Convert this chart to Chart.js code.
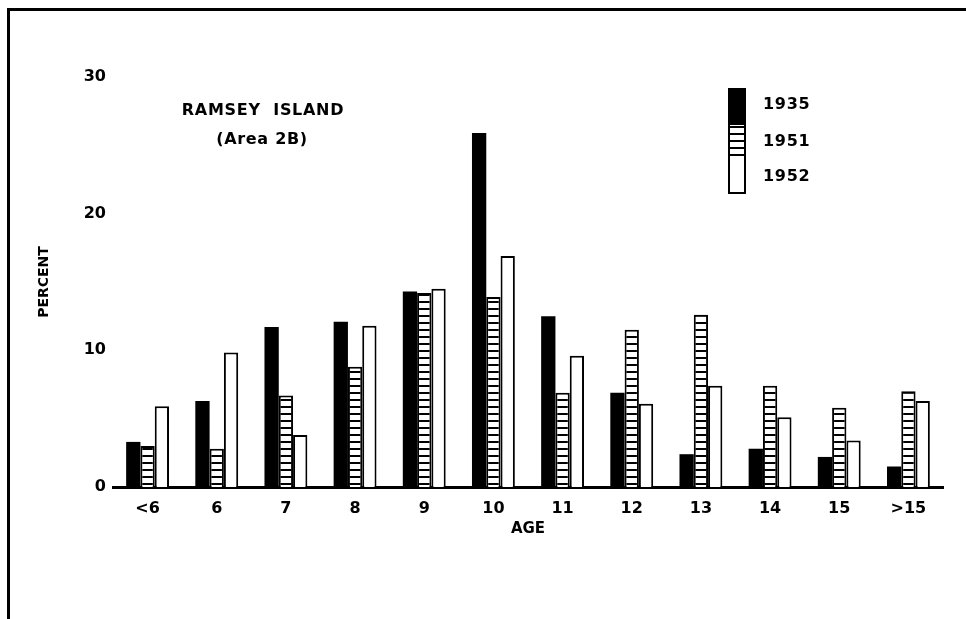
<!DOCTYPE html>
<html>
<head>
<meta charset="utf-8">
<title>Ramsey Island - age composition</title>
<script src="https://cdn.jsdelivr.net/npm/chart.js@4.4.1/dist/chart.umd.min.js"></script>
<style>
    html, body { margin: 0; padding: 0; background: #fff; }
    canvas { display: block; }
</style>
</head>
<body>
<canvas id="ageChart" width="966" height="619"></canvas>
<script>
// age classes on the x axis
const ages = ['<6', '6', '7', '8', '9', '10', '11', '12', '13', '14', '15', '>15'];

// percent of sample in each age class
const pct1935 = [3.3, 6.3, 11.7, 12.1, 14.3, 25.9, 12.5, 6.9, 2.4, 2.8, 2.2, 1.5];
const pct1951 = [3.0, 2.8, 6.7, 8.8, 14.2, 13.9, 6.9, 11.5, 12.6, 7.4, 5.8, 7.0];
const pct1952 = [5.9, 9.85, 3.8, 11.8, 14.5, 16.9, 9.6, 6.1, 7.4, 5.1, 3.4, 6.3];

const yTicks = [0, 10, 20, 30];

const FONT = '"DejaVu Sans", sans-serif';

function makeStripes(ctx) {
    const tile = document.createElement('canvas');
    tile.width = 4;
    tile.height = 7;
    const t = tile.getContext('2d');
    t.fillStyle = '#fff';
    t.fillRect(0, 0, 4, 7);
    t.fillStyle = '#000';
    t.fillRect(0, 0, 4, 2);
    return ctx.createPattern(tile, 'repeat');
}

function drawChart() {
    const canvas = document.getElementById('ageChart');
    const ctx = canvas.getContext('2d');
    const stripes = makeStripes(ctx);

    // white page + frame line on the left and top
    const pagePlugin = {
        id: 'page',
        beforeDraw(chart) {
            const c = chart.ctx;
            c.save();
            c.fillStyle = '#fff';
            c.fillRect(0, 0, chart.width, chart.height);
            c.restore();
        },
        afterDraw(chart) {
            const c = chart.ctx;
            c.save();
            c.fillStyle = '#000';
            c.fillRect(7, 8, 3, chart.height - 8);
            c.fillRect(7, 8, chart.width - 7, 3);
            c.restore();
        }
    };

    // stacked swatch legend and the locality note
    const notesPlugin = {
        id: 'notes',
        afterDraw(chart) {
            const c = chart.ctx;
            c.save();
            c.font = 'bold 16px ' + FONT;
            c.letterSpacing = '0.7px';
            c.fillStyle = '#000';
            c.textAlign = 'center';
            c.textBaseline = 'middle';
            c.fillText('RAMSEY  ISLAND', 263, 111);
            c.fillText('(Area 2B)', 262, 140);

            const x = 729, w = 16;
            c.fillStyle = '#000';
            c.fillRect(x, 89, w, 36);
            c.fillStyle = stripes;
            c.fillRect(x, 125, w, 33);
            c.fillStyle = '#fff';
            c.fillRect(x, 158, w, 35);
            c.strokeStyle = '#000';
            c.lineWidth = 2;
            c.strokeRect(x, 89, w, 104);

            c.fillStyle = '#000';
            c.textAlign = 'left';
            c.font = 'bold 16px ' + FONT;
            c.fillText('1935', 763, 105);
            c.fillText('1951', 763, 142);
            c.fillText('1952', 763, 177);
            c.restore();
        }
    };

    new Chart(ctx, {
        type: 'bar',
        data: {
            labels: ages,
            datasets: [
                {
                    label: '1935',
                    data: pct1935,
                    backgroundColor: '#000',
                    borderColor: '#000',
                    borderWidth: 0
                },
                {
                    label: '1951',
                    data: pct1951,
                    backgroundColor: stripes,
                    borderColor: '#000',
                    borderWidth: 2
                },
                {
                    label: '1952',
                    data: pct1952,
                    backgroundColor: '#fff',
                    borderColor: '#000',
                    borderWidth: 2
                }
            ]
        },
        options: {
            responsive: false,
            animation: false,
            devicePixelRatio: 1,
            categoryPercentage: 0.62,
            barPercentage: 1.0,
            layout: {
                padding: { top: 77, right: 23, bottom: 0, left: 0 }
            },
            plugins: {
                legend: { display: false },
                tooltip: { enabled: false }
            },
            scales: {
                x: {
                    grid: { display: false, drawTicks: false },
                    border: { display: true, color: '#000', width: 3 },
                    ticks: {
                        color: '#000',
                        font: { family: FONT, size: 16, weight: 'bold' },
                        padding: 12,
                        maxRotation: 0,
                        autoSkip: false
                    },
                    title: {
                        display: true,
                        text: 'AGE',
                        color: '#000',
                        font: { family: FONT, size: 15, weight: 'bold' },
                        padding: { top: 0, bottom: 81 }
                    },
                    afterFit(scale) {
                        scale.height = 132;
                    }
                },
                y: {
                    min: 0,
                    max: 30,
                    grid: { display: false, drawTicks: false },
                    border: { display: false },
                    afterBuildTicks(scale) {
                        scale.ticks = yTicks.map(v => ({ value: v }));
                    },
                    ticks: {
                        color: '#000',
                        font: { family: FONT, size: 16, weight: 'bold' },
                        padding: 7
                    },
                    title: {
                        display: true,
                        text: 'PERCENT',
                        color: '#000',
                        font: { family: FONT, size: 14, weight: 'bold' },
                        padding: { top: 36, bottom: 0 }
                    },
                    afterFit(scale) {
                        scale.width = 113;
                    }
                }
            }
        },
        plugins: [pagePlugin, notesPlugin]
    });
}

drawChart();
</script>
</body>
</html>
